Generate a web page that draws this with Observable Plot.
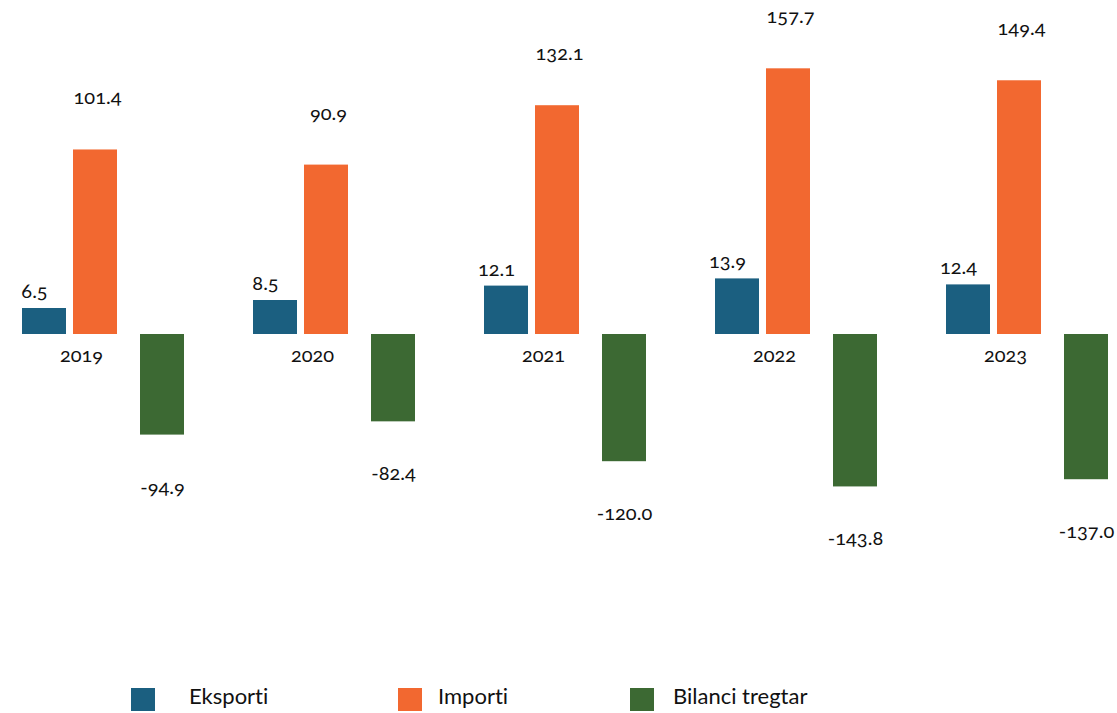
<!DOCTYPE html>
<html>
<head>
<meta charset="utf-8">
<script src="https://cdn.jsdelivr.net/npm/d3@7"></script>
<script src="https://cdn.jsdelivr.net/npm/@observablehq/plot@0.6"></script>
<style>
  html, body { margin: 0; padding: 0; background: #fff; overflow: hidden; }
  #chart svg { display: block; font-variant-numeric: oldstyle-nums; font-variant-ligatures: none; }
  #legend { position: relative; width: 1117px; height: 43px; font-family: Lato, "Open Sans", sans-serif; font-size: 22px; color: #111; font-variant-ligatures: none; }
  #legend .sw { position: absolute; top: 18px; width: 24px; height: 23px; }
  #legend .lb { position: absolute; top: 13px; line-height: 26px; }
</style>
</head>
<body>
<div id="chart"></div>
<div id="legend"></div>
<script>
const years = ["2019", "2020", "2021", "2022", "2023"];
const series = ["Eksporti", "Importi", "Bilanci tregtar"];
const eksporti = [6.5, 8.5, 12.1, 13.9, 12.4];
const importi = [101.4, 90.9, 132.1, 157.7, 149.4];
const bilanci = [-94.9, -82.4, -120.0, -143.8, -137.0];
const colors = ["#1b5f80", "#f26830", "#3c6933"];

const rows = [];
years.forEach((yr, i) => {
  rows.push({year: yr, series: series[0], value: eksporti[i]});
  rows.push({year: yr, series: series[1], value: importi[i]});
  rows.push({year: yr, series: series[2], value: bilanci[i]});
});
const bySeries = s => rows.filter(d => d.series === s);
const fmt = v => v.toFixed(1);
const txt = {fontFamily: "Lato, 'Open Sans', sans-serif", fontSize: 20, fill: "#111"};

const chart = Plot.plot({
  width: 1117,
  height: 670,
  marginLeft: 20,
  marginRight: 7,
  marginTop: 0,
  marginBottom: 0,
  style: {fontFamily: "Lato, 'Open Sans', sans-serif", background: "#fff"},
  fx: {domain: years, paddingInner: 0.293, paddingOuter: 0, axis: null, label: null},
  x: {domain: series, paddingInner: 0.26, paddingOuter: 0, axis: null},
  // piecewise value axis, as in the (non-uniform) original graphic
  y: {type: "linear", domain: [-150, 0, 15, 160], range: [493, 334, 274, 65], axis: null},
  color: {domain: series, range: colors},
  marks: [
    Plot.barY(bySeries(series[0]), {fx: "year", x: "series", y: "value", fill: "series"}),
    Plot.barY(bySeries(series[1]), {fx: "year", x: "series", y: "value", fill: "series", dx: -8}),
    Plot.barY(bySeries(series[2]), {fx: "year", x: "series", y: "value", fill: "series"}),
    Plot.text(bySeries(series[0]), {
      fx: "year", x: "series", y: "value", text: d => fmt(d.value), dy: -17, dx: -10, ...txt
    }),
    Plot.text(bySeries(series[1]), {
      fx: "year", x: "series", y: "value", text: d => fmt(d.value), dy: -52, dx: -6, ...txt
    }),
    Plot.text(bySeries(series[2]), {
      fx: "year", x: "series", y: "value", text: d => fmt(d.value), dy: 52, ...txt
    }),
    Plot.text(years, {
      fx: d => d, x: () => series[1], y: () => 0, text: d => d, dy: 21, dx: -22, ...txt
    })
  ]
});
document.getElementById("chart").appendChild(chart);

// legend (HTML, below the SVG)
const legend = d3.select("#legend");
const swLeft = [131, 398, 630];
const lbLeft = [189, 438, 673];
series.forEach((s, i) => {
  legend.append("div").attr("class", "sw").style("left", swLeft[i] + "px").style("background", colors[i]);
  legend.append("div").attr("class", "lb").style("left", lbLeft[i] + "px").text(s);
});
</script>
</body>
</html>
